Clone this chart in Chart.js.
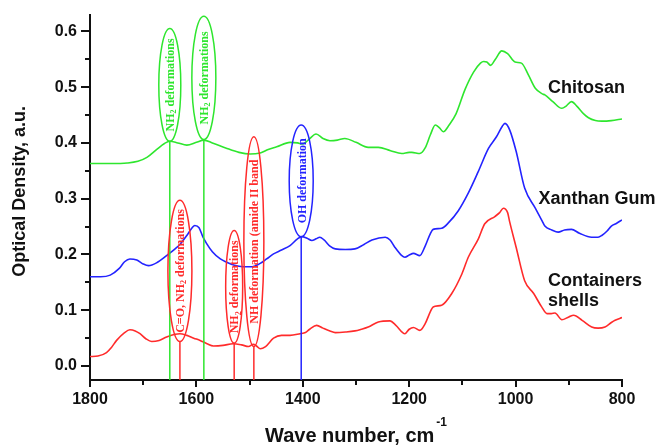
<!DOCTYPE html>
<html><head><meta charset="utf-8">
<script src="https://cdn.jsdelivr.net/npm/chart.js@4/dist/chart.umd.min.js"></script>
<style>html,body{margin:0;padding:0;background:#fff}</style>
</head><body>
<canvas id="c" width="655" height="446"></canvas>
<script>
// ---- Data (wavenumber, cm-1 ; optical density, a.u.) ----
const chitosanWave = [1800,1760,1730,1710,1693,1675,1660,1650,1635,1618,1600,1586,1570,1545,1520,1499,1480,1465,1449,1424,1410,1400,1390,1375,1362,1349,1335,1321,1300,1277,1258,1235,1214,1200,1195,1180,1170,1160,1151,1143,1136,1125,1112,1095,1079,1066,1060,1054,1047,1038,1026,1015,1001,989,976,963,950,945,930,913,905,895,885,872,863,850,838,820,800];
const chitosanOD   = [0.363,0.363,0.364,0.367,0.374,0.388,0.399,0.403,0.400,0.396,0.401,0.405,0.400,0.391,0.383,0.380,0.382,0.388,0.393,0.401,0.400,0.398,0.405,0.416,0.408,0.404,0.405,0.408,0.401,0.392,0.392,0.386,0.381,0.383,0.383,0.381,0.391,0.415,0.432,0.427,0.420,0.432,0.452,0.496,0.527,0.543,0.546,0.545,0.539,0.550,0.565,0.560,0.545,0.543,0.522,0.498,0.488,0.486,0.474,0.462,0.466,0.474,0.466,0.452,0.445,0.440,0.439,0.440,0.443];

const xanthanWave = [1800,1780,1762,1745,1735,1725,1712,1700,1690,1675,1656,1640,1631,1618,1608,1603,1595,1588,1581,1570,1555,1543,1530,1512,1495,1480,1468,1455,1440,1424,1410,1402,1392,1383,1375,1368,1360,1349,1339,1320,1302,1285,1270,1245,1236,1227,1215,1208,1200,1192,1180,1170,1160,1155,1139,1126,1108,1089,1070,1051,1036,1025,1020,1011,999,983,963,950,945,932,920,908,895,880,857,845,838,828,820,810,800];
const xanthanOD   = [0.160,0.160,0.163,0.175,0.187,0.192,0.190,0.183,0.180,0.185,0.198,0.210,0.218,0.234,0.248,0.252,0.248,0.232,0.220,0.205,0.192,0.186,0.181,0.178,0.178,0.184,0.192,0.201,0.208,0.216,0.228,0.232,0.229,0.225,0.228,0.231,0.226,0.215,0.210,0.209,0.210,0.218,0.226,0.231,0.226,0.213,0.199,0.195,0.199,0.202,0.198,0.215,0.238,0.245,0.247,0.257,0.278,0.310,0.349,0.390,0.411,0.430,0.435,0.423,0.385,0.319,0.283,0.260,0.251,0.244,0.240,0.244,0.245,0.238,0.231,0.231,0.234,0.242,0.251,0.256,0.262];

const shellsWave = [1800,1785,1769,1760,1750,1735,1725,1715,1706,1695,1684,1670,1656,1640,1631,1618,1605,1593,1580,1568,1550,1531,1515,1502,1493,1487,1480,1470,1455,1440,1424,1405,1395,1387,1374,1362,1349,1339,1320,1302,1290,1277,1258,1236,1225,1208,1200,1192,1180,1170,1160,1155,1139,1120,1101,1089,1070,1058,1039,1030,1023,1015,1011,999,983,966,951,941,933,926,913,900,891,875,857,845,832,820,813,800];
const shellsOD   = [0.017,0.018,0.024,0.033,0.046,0.060,0.065,0.063,0.058,0.049,0.044,0.046,0.052,0.057,0.058,0.055,0.050,0.046,0.040,0.036,0.037,0.040,0.038,0.035,0.039,0.036,0.031,0.035,0.050,0.055,0.055,0.058,0.060,0.066,0.073,0.068,0.063,0.060,0.061,0.063,0.066,0.070,0.079,0.081,0.073,0.058,0.066,0.069,0.064,0.076,0.098,0.106,0.109,0.130,0.165,0.195,0.228,0.255,0.268,0.275,0.283,0.275,0.258,0.213,0.153,0.130,0.106,0.094,0.094,0.095,0.083,0.088,0.091,0.082,0.070,0.068,0.070,0.078,0.082,0.087];

const seriesNames = ['Chitosan','Xanthan Gum','Containers shells'];
const xTickLabels = [1800,1600,1400,1200,1000,800];
const yTickLabels = [0.0,0.1,0.2,0.3,0.4,0.5,0.6];

// band assignments: wavenumber, ellipse extent (OD), series index, label
const bandWave   = [1650,1586,1631,1529,1492,1403];
const bandTop    = [0.605,0.627,0.297,0.243,0.411,0.432];
const bandBottom = [0.403,0.406,0.044,0.041,0.035,0.232];
const bandSeries = [0,0,2,2,2,1];
const bandLabel  = ['NH2 deformations','NH2 deformations','C=O, NH2 deformations','NH2 deformations','NH deformation (amide II band','OH deformation'];

// curve name labels anchored in data space
const nameText = ['Chitosan','Xanthan Gum','Containers','shells'];
const nameWave = [939,957,939,939];
const nameOD   = [0.489,0.291,0.143,0.107];

// ---- Styles ----
const colors = ['#2ee62e','#2323ff','#ff2b2b'];
const bandHalfW = [11,12,12,8.5,10,12];

function pts(w,v){return w.map((x,i)=>({x:x,y:v[i]}));}

function drawRich(ctx, text, cx, cy, size){
  const parts=[];
  let rest=text;
  while(rest.length){
    const k=rest.indexOf('NH2');
    if(k<0){parts.push([rest,false]);break;}
    parts.push([rest.slice(0,k+2),false]);
    parts.push(['2',true]);
    rest=rest.slice(k+3);
  }
  const fMain='bold '+size+'px "Liberation Serif", "Times New Roman", serif';
  const fSub='bold '+Math.round(size*0.68)+'px "Liberation Serif", "Times New Roman", serif';
  let total=0;
  for(const p of parts){ctx.font=p[1]?fSub:fMain; total+=ctx.measureText(p[0]).width;}
  let xx=cx-total/2;
  ctx.textBaseline='alphabetic'; ctx.textAlign='left';
  for(const p of parts){
    ctx.font=p[1]?fSub:fMain;
    ctx.fillText(p[0], xx, cy+(p[1]?size*0.38+2:size*0.36));
    xx+=ctx.measureText(p[0]).width;
  }
}

const overlay={
  id:'overlay',
  afterDatasetsDraw(chart){
    const {ctx,scales:{x,y},chartArea:ca}=chart;
    ctx.save();
    for(let i=0;i<bandWave.length;i++){
      const px=x.getPixelForValue(bandWave[i]);
      const t=y.getPixelForValue(bandTop[i]);
      const b=y.getPixelForValue(bandBottom[i]);
      const col=colors[bandSeries[i]];
      ctx.strokeStyle=col; ctx.fillStyle=col; ctx.lineWidth=1.5;
      ctx.beginPath(); ctx.moveTo(px,ca.bottom); ctx.lineTo(px,b); ctx.stroke();
      ctx.beginPath(); ctx.ellipse(px,(t+b)/2,bandHalfW[i],(b-t)/2,0,0,Math.PI*2); ctx.stroke();
      ctx.save();
      ctx.translate(px,(t+b)/2); ctx.rotate(-Math.PI/2);
      drawRich(ctx,bandLabel[i],0,0,12);
      ctx.restore();
    }
    ctx.fillStyle='#111';
    ctx.font='bold 18px "Liberation Sans", Arial, sans-serif';
    ctx.textAlign='left'; ctx.textBaseline='alphabetic';
    for(let i=0;i<nameText.length;i++){
      ctx.fillText(nameText[i], x.getPixelForValue(nameWave[i]), y.getPixelForValue(nameOD[i]));
    }
    ctx.restore();
  },
  afterDraw(chart){
    const {ctx,scales:{x,y},chartArea:ca}=chart;
    ctx.save();
    ctx.strokeStyle='#111'; ctx.lineWidth=2;
    for(let v=1800; v>=800; v-=100){
      const px=Math.round(x.getPixelForValue(v));
      const len=(v%200===0)?6:4;
      ctx.beginPath(); ctx.moveTo(px,ca.bottom); ctx.lineTo(px,ca.bottom+len+1); ctx.stroke();
    }
    for(let k=0;k<=12;k++){
      const v=k*0.05;
      const py=Math.round(y.getPixelForValue(v));
      const len=(k%2===0)?8:4;
      ctx.beginPath(); ctx.moveTo(ca.left,py); ctx.lineTo(ca.left-len-1,py); ctx.stroke();
    }
    ctx.fillStyle='#111';
    ctx.save();
    ctx.translate(20,(ca.top+ca.bottom)/2-6);
    ctx.rotate(-Math.PI/2);
    ctx.font='bold 18px "Liberation Sans", Arial, sans-serif';
    ctx.textAlign='center'; ctx.textBaseline='middle';
    ctx.fillText('Optical Density, a.u.',0,0);
    ctx.restore();
    const fMain='bold 20px "Liberation Sans", Arial, sans-serif';
    const fSup='bold 12px "Liberation Sans", Arial, sans-serif';
    ctx.font=fMain; const w1=ctx.measureText('Wave number, cm').width;
    ctx.font=fSup; const w2=ctx.measureText('-1').width;
    const start=(ca.left+ca.right)/2-(w1+w2+2)/2;
    ctx.textAlign='left'; ctx.textBaseline='alphabetic';
    ctx.font=fMain; ctx.fillText('Wave number, cm',start,442);
    ctx.font=fSup; ctx.fillText('-1',start+w1+2,426);
    ctx.restore();
  }
};

new Chart(document.getElementById('c'),{
  type:'line',
  data:{datasets:[
    {label:seriesNames[0],data:pts(chitosanWave,chitosanOD),borderColor:colors[0]},
    {label:seriesNames[1],data:pts(xanthanWave,xanthanOD),borderColor:colors[1]},
    {label:seriesNames[2],data:pts(shellsWave,shellsOD),borderColor:colors[2]}
  ]},
  options:{
    responsive:false, animation:false, devicePixelRatio:1,
    layout:{padding:{left:0,right:33,top:13,bottom:0}},
    elements:{point:{radius:0},line:{borderWidth:1.6,tension:0.4,cubicInterpolationMode:'monotone',fill:false}},
    plugins:{legend:{display:false},tooltip:{enabled:false},title:{display:false}},
    scales:{
      x:{type:'linear',reverse:true,min:800,max:1800,
        afterFit(s){s.height=66;},
        afterBuildTicks(s){s.ticks=xTickLabels.map(v=>({value:v}));},
        grid:{display:true,drawOnChartArea:false,drawTicks:true,tickLength:6,tickColor:'rgba(0,0,0,0)'},
        border:{display:true,color:'#111',width:2},
        ticks:{padding:4,color:'#111',maxRotation:0,autoSkip:false,font:{family:'"Liberation Sans", Arial, sans-serif',size:16,weight:'bold'},callback:v=>String(v)}
      },
      y:{type:'linear',min:-0.025,max:0.63,
        afterFit(s){s.width=90;},
        afterBuildTicks(s){s.ticks=yTickLabels.map(v=>({value:v}));},
        grid:{display:true,drawOnChartArea:false,drawTicks:true,tickLength:8,tickColor:'rgba(0,0,0,0)'},
        border:{display:true,color:'#111',width:2},
        ticks:{padding:5,color:'#111',autoSkip:false,font:{family:'"Liberation Sans", Arial, sans-serif',size:16,weight:'bold'},callback:v=>Number(v).toFixed(1)}
      }
    }
  },
  plugins:[overlay]
});
</script>
</body></html>
